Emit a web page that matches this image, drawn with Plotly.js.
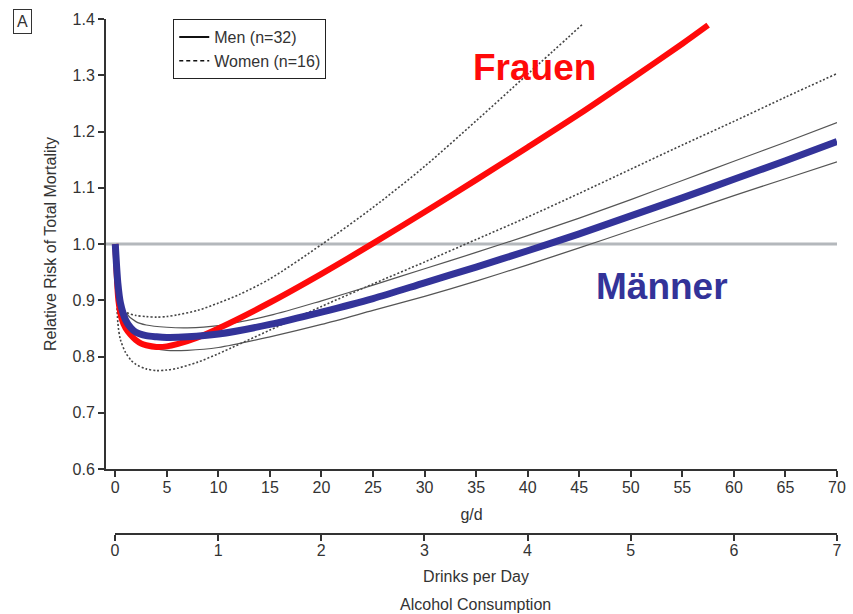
<!DOCTYPE html>
<html>
<head>
<meta charset="utf-8">
<script src="https://cdn.plot.ly/plotly-3.0.1.min.js"></script>
<style>html,body{margin:0;padding:0;background:#fff;}#chart{width:853px;height:614px;}</style>
</head>
<body>
<div id="chart"></div>
<script>
// ---- data (g/d alcohol vs relative risk) ----
const menX   = [0, 0.25, 0.5, 1, 1.5, 2, 3, 4, 5, 7, 10, 15, 20, 25, 30, 35, 40, 45, 50, 55, 60, 65, 70];
const menRR  = [1.0, 0.93, 0.895, 0.865, 0.851, 0.843, 0.837, 0.835, 0.834, 0.835, 0.840, 0.857, 0.879, 0.903, 0.931, 0.959, 0.988, 1.018, 1.050, 1.082, 1.115, 1.148, 1.182];

const menCIX   = [0, 0.25, 0.5, 1, 2, 3, 5, 7, 10, 15, 20, 25, 30, 35, 40, 45, 50, 55, 60, 65, 70];
const menUpper = [1.0, 0.93, 0.9, 0.878, 0.862, 0.856, 0.852, 0.851, 0.855, 0.873, 0.899, 0.927, 0.956, 0.985, 1.015, 1.046, 1.079, 1.113, 1.147, 1.181, 1.216];
const menLower = [1.0, 0.925, 0.885, 0.853, 0.828, 0.818, 0.811, 0.811, 0.816, 0.835, 0.857, 0.882, 0.907, 0.934, 0.963, 0.993, 1.024, 1.055, 1.086, 1.116, 1.146];

const womX  = [0, 0.1, 0.3, 0.6, 1, 1.5, 2, 2.5, 3, 4, 5, 6, 8, 10, 15, 20, 25, 30, 35, 40, 45, 50, 55, 57.5];
const womRR = [1.0, 0.96, 0.9, 0.868, 0.85, 0.838, 0.829, 0.823, 0.82, 0.817, 0.818, 0.822, 0.834, 0.85, 0.896, 0.947, 1.001, 1.057, 1.114, 1.172, 1.231, 1.293, 1.356, 1.389];

const womUpX  = [0, 0.25, 0.5, 1, 2, 3, 4, 5, 6, 8, 10, 12, 15, 20, 25, 30, 35, 40, 45.4];
const womUpper = [1.0, 0.91, 0.89, 0.879, 0.873, 0.871, 0.870, 0.871, 0.874, 0.882, 0.895, 0.91, 0.938, 0.999, 1.065, 1.138, 1.219, 1.302, 1.392];

const womLoX   = [0, 0.25, 0.5, 1, 1.5, 2, 3, 4, 5, 6, 8, 10, 15, 20, 25, 30, 35, 40, 45, 50, 55, 60, 65, 70];
const womLower = [1.0, 0.86, 0.83, 0.807, 0.794, 0.786, 0.778, 0.775, 0.776, 0.779, 0.79, 0.805, 0.847, 0.889, 0.929, 0.968, 1.008, 1.048, 1.09, 1.133, 1.176, 1.218, 1.261, 1.303];

const refValue = 1.0;
const gdTicks = [0, 5, 10, 15, 20, 25, 30, 35, 40, 45, 50, 55, 60, 65, 70];
const drinkTicks = [0, 1, 2, 3, 4, 5, 6, 7];
const yTicks = [0.6, 0.7, 0.8, 0.9, 1.0, 1.1, 1.2, 1.3, 1.4];
const legendNames = ['Men (n=32)', 'Women (n=16)'];
const labelWomen = 'Frauen';
const labelMen = 'Männer';

const FONT = 'Liberation Sans, Arial, sans-serif';
const AX = '#333';
const RED = '#ff0a0a';
const BLUE = '#333399';

const sp = {shape: 'spline', smoothing: 0.8};

const traces = [
  {x: womUpX, y: womUpper, mode: 'lines', line: Object.assign({color: '#444', width: 1.6, dash: '2px,2px'}, sp), showlegend: false, hoverinfo: 'skip'},
  {x: womLoX, y: womLower, mode: 'lines', line: Object.assign({color: '#444', width: 1.6, dash: '2px,2px'}, sp), showlegend: false, hoverinfo: 'skip'},
  {x: menCIX, y: menUpper, mode: 'lines', line: Object.assign({color: '#555', width: 1.2}, sp), showlegend: false, hoverinfo: 'skip'},
  {x: menCIX, y: menLower, mode: 'lines', line: Object.assign({color: '#555', width: 1.2}, sp), showlegend: false, hoverinfo: 'skip'},
  {x: womX, y: womRR, mode: 'lines', line: Object.assign({color: RED, width: 6}, sp), showlegend: false, name: 'Frauen'},
  {x: menX, y: menRR, mode: 'lines', line: Object.assign({color: BLUE, width: 7}, sp), showlegend: false, name: 'Männer'},
  {x: [null], y: [null], mode: 'lines', line: {color: '#111', width: 2}, name: legendNames[0], showlegend: true},
  {x: [null], y: [null], mode: 'lines', line: {color: '#111', width: 1.5, dash: '4px,3px'}, name: legendNames[1], showlegend: true},
  {x: drinkTicks, y: drinkTicks.map(() => null), xaxis: 'x2', yaxis: 'y', mode: 'lines', showlegend: false, hoverinfo: 'skip'}
];

const axisCommon = {
  showline: true, linecolor: AX, linewidth: 2,
  ticks: 'outside', ticklen: 6, tickwidth: 2, tickcolor: AX,
  showgrid: false, zeroline: false,
  tickfont: {family: FONT, size: 16, color: AX},
  fixedrange: true
};

const layout = {
  width: 853, height: 614,
  margin: {l: 106, r: 16, t: 19, b: 80},
  paper_bgcolor: '#fff', plot_bgcolor: 'rgba(0,0,0,0)',
  font: {family: FONT, size: 16, color: AX},
  showlegend: true,
  legend: {
    x: 0.092, y: 1, xanchor: 'left', yanchor: 'top',
    bgcolor: '#fff', bordercolor: '#222', borderwidth: 1,
    font: {family: FONT, size: 16, color: AX},
    tracegroupgap: 0
  },
  xaxis: Object.assign({}, axisCommon, {
    domain: [0, 1], range: [-0.9, 70], anchor: 'y',
    tickvals: gdTicks, ticktext: gdTicks.map(String),
    ticklabelstandoff: -3,
    title: {text: 'g/d', font: {family: FONT, size: 16, color: AX}, standoff: 14}
  }),
  xaxis2: Object.assign({}, axisCommon, {
    domain: [0.0123, 1], range: [0, 7], anchor: 'free', position: 0,
    tickvals: drinkTicks, ticktext: drinkTicks.map(String),
    ticklabelstandoff: -4,
    title: {text: 'Drinks per Day', font: {family: FONT, size: 16, color: AX}, standoff: 12}
  }),
  yaxis: Object.assign({}, axisCommon, {
    domain: [0.1262, 1], range: [0.6, 1.4], anchor: 'x',
    tickvals: yTicks, ticktext: yTicks.map(v => v.toFixed(1)),
    title: {text: 'Relative Risk of Total Mortality', font: {family: FONT, size: 16, color: AX}, standoff: 12}
  }),
  shapes: [
    {type: 'line', xref: 'paper', yref: 'y', x0: 0, x1: 1, y0: refValue, y1: refValue,
     line: {color: '#b4b8bc', width: 3}, layer: 'below'}
  ],
  annotations: [
    {text: labelWomen, xref: 'x', yref: 'y', x: 40.7, y: 1.313, showarrow: false,
     font: {family: FONT, size: 37, color: RED, weight: 'bold'}, xanchor: 'center', yanchor: 'middle'},
    {text: labelMen, xref: 'x', yref: 'y', x: 53, y: 0.924, showarrow: false,
     font: {family: FONT, size: 37, color: BLUE, weight: 'bold'}, xanchor: 'center', yanchor: 'middle'},
    {text: 'Alcohol Consumption', xref: 'paper', yref: 'paper', x: 0.506, y: -0.136, showarrow: false,
     font: {family: FONT, size: 16, color: AX}, xanchor: 'center', yanchor: 'middle'},
    {text: 'A', xref: 'paper', yref: 'paper', x: -0.114, y: 0.995, showarrow: false,
     font: {family: FONT, size: 16, color: AX}, xanchor: 'center', yanchor: 'middle',
     bordercolor: '#333', borderwidth: 1, borderpad: 3, bgcolor: '#fff'}
  ]
};

Plotly.newPlot('chart', traces, layout, {displayModeBar: false, staticPlot: true});
</script>
</body>
</html>
